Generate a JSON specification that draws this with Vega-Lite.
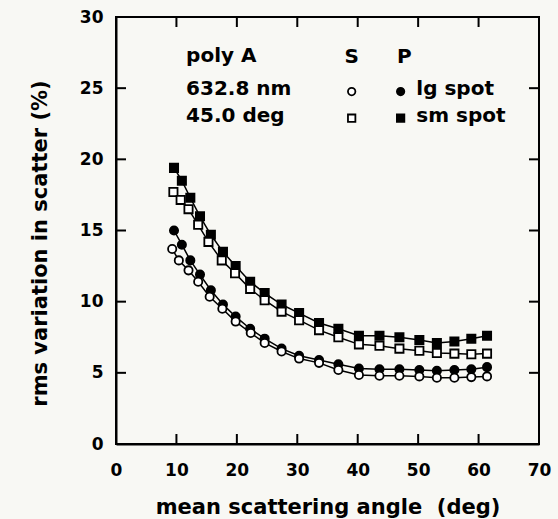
{
  "$schema": "https://vega.github.io/schema/vega-lite/v6.json",
  "width": 423,
  "height": 427,
  "autosize": {"type": "none"},
  "padding": {"left": 116, "top": 17, "right": 19, "bottom": 75},
  "background": "#f8f8f4",
  "config": {
    "view": {"stroke": "black", "strokeWidth": 2},
    "font": "DejaVu Sans",
    "tick": {"bandSize": 20, "thickness": 2},
    "axis": {
      "grid": false,
      "domainColor": "black",
      "domainWidth": 2,
      "labelColor": "black",
      "labelFont": "DejaVu Sans",
      "labelFontWeight": "bold",
      "labelFontSize": 17,
      "labelFlush": false,
      "labelOverlap": false,
      "titleColor": "black",
      "titleFont": "DejaVu Sans",
      "titleFontWeight": "bold",
      "titleFontSize": 21
    }
  },
  "datasets": {
    "pts": [
      {"angle": 9.6, "rms": 19.4, "pol": "P", "spot": "sm"},
      {"angle": 10.9, "rms": 18.5, "pol": "P", "spot": "sm"},
      {"angle": 12.3, "rms": 17.3, "pol": "P", "spot": "sm"},
      {"angle": 13.9, "rms": 16.0, "pol": "P", "spot": "sm"},
      {"angle": 15.7, "rms": 14.7, "pol": "P", "spot": "sm"},
      {"angle": 17.7, "rms": 13.5, "pol": "P", "spot": "sm"},
      {"angle": 19.8, "rms": 12.5, "pol": "P", "spot": "sm"},
      {"angle": 22.2, "rms": 11.4, "pol": "P", "spot": "sm"},
      {"angle": 24.6, "rms": 10.6, "pol": "P", "spot": "sm"},
      {"angle": 27.4, "rms": 9.8, "pol": "P", "spot": "sm"},
      {"angle": 30.3, "rms": 9.2, "pol": "P", "spot": "sm"},
      {"angle": 33.6, "rms": 8.5, "pol": "P", "spot": "sm"},
      {"angle": 36.8, "rms": 8.1, "pol": "P", "spot": "sm"},
      {"angle": 40.2, "rms": 7.6, "pol": "P", "spot": "sm"},
      {"angle": 43.6, "rms": 7.6, "pol": "P", "spot": "sm"},
      {"angle": 46.9, "rms": 7.5, "pol": "P", "spot": "sm"},
      {"angle": 50.2, "rms": 7.3, "pol": "P", "spot": "sm"},
      {"angle": 53.1, "rms": 7.1, "pol": "P", "spot": "sm"},
      {"angle": 56.0, "rms": 7.2, "pol": "P", "spot": "sm"},
      {"angle": 58.8, "rms": 7.4, "pol": "P", "spot": "sm"},
      {"angle": 61.4, "rms": 7.6, "pol": "P", "spot": "sm"},
      {"angle": 9.6, "rms": 15.0, "pol": "P", "spot": "lg"},
      {"angle": 10.9, "rms": 14.0, "pol": "P", "spot": "lg"},
      {"angle": 12.3, "rms": 12.9, "pol": "P", "spot": "lg"},
      {"angle": 13.9, "rms": 11.9, "pol": "P", "spot": "lg"},
      {"angle": 15.7, "rms": 10.8, "pol": "P", "spot": "lg"},
      {"angle": 17.7, "rms": 9.8, "pol": "P", "spot": "lg"},
      {"angle": 19.8, "rms": 8.95, "pol": "P", "spot": "lg"},
      {"angle": 22.2, "rms": 8.1, "pol": "P", "spot": "lg"},
      {"angle": 24.6, "rms": 7.4, "pol": "P", "spot": "lg"},
      {"angle": 27.4, "rms": 6.7, "pol": "P", "spot": "lg"},
      {"angle": 30.3, "rms": 6.2, "pol": "P", "spot": "lg"},
      {"angle": 33.6, "rms": 5.9, "pol": "P", "spot": "lg"},
      {"angle": 36.8, "rms": 5.6, "pol": "P", "spot": "lg"},
      {"angle": 40.2, "rms": 5.3, "pol": "P", "spot": "lg"},
      {"angle": 43.6, "rms": 5.25, "pol": "P", "spot": "lg"},
      {"angle": 46.9, "rms": 5.25, "pol": "P", "spot": "lg"},
      {"angle": 50.2, "rms": 5.2, "pol": "P", "spot": "lg"},
      {"angle": 53.1, "rms": 5.15, "pol": "P", "spot": "lg"},
      {"angle": 56.0, "rms": 5.2, "pol": "P", "spot": "lg"},
      {"angle": 58.8, "rms": 5.25, "pol": "P", "spot": "lg"},
      {"angle": 61.4, "rms": 5.4, "pol": "P", "spot": "lg"},
      {"angle": 9.5, "rms": 17.7, "pol": "S", "spot": "sm"},
      {"angle": 10.7, "rms": 17.15, "pol": "S", "spot": "sm"},
      {"angle": 12.0, "rms": 16.5, "pol": "S", "spot": "sm"},
      {"angle": 13.6, "rms": 15.4, "pol": "S", "spot": "sm"},
      {"angle": 15.3, "rms": 14.2, "pol": "S", "spot": "sm"},
      {"angle": 17.5, "rms": 12.9, "pol": "S", "spot": "sm"},
      {"angle": 19.7, "rms": 12.0, "pol": "S", "spot": "sm"},
      {"angle": 22.2, "rms": 10.9, "pol": "S", "spot": "sm"},
      {"angle": 24.6, "rms": 10.1, "pol": "S", "spot": "sm"},
      {"angle": 27.4, "rms": 9.3, "pol": "S", "spot": "sm"},
      {"angle": 30.3, "rms": 8.7, "pol": "S", "spot": "sm"},
      {"angle": 33.6, "rms": 8.0, "pol": "S", "spot": "sm"},
      {"angle": 36.8, "rms": 7.5, "pol": "S", "spot": "sm"},
      {"angle": 40.2, "rms": 7.0, "pol": "S", "spot": "sm"},
      {"angle": 43.6, "rms": 6.9, "pol": "S", "spot": "sm"},
      {"angle": 46.9, "rms": 6.7, "pol": "S", "spot": "sm"},
      {"angle": 50.2, "rms": 6.55, "pol": "S", "spot": "sm"},
      {"angle": 53.1, "rms": 6.4, "pol": "S", "spot": "sm"},
      {"angle": 56.0, "rms": 6.35, "pol": "S", "spot": "sm"},
      {"angle": 58.8, "rms": 6.3, "pol": "S", "spot": "sm"},
      {"angle": 61.4, "rms": 6.35, "pol": "S", "spot": "sm"},
      {"angle": 9.3, "rms": 13.7, "pol": "S", "spot": "lg"},
      {"angle": 10.4, "rms": 12.9, "pol": "S", "spot": "lg"},
      {"angle": 12.0, "rms": 12.2, "pol": "S", "spot": "lg"},
      {"angle": 13.6, "rms": 11.4, "pol": "S", "spot": "lg"},
      {"angle": 15.5, "rms": 10.35, "pol": "S", "spot": "lg"},
      {"angle": 17.6, "rms": 9.5, "pol": "S", "spot": "lg"},
      {"angle": 19.8, "rms": 8.6, "pol": "S", "spot": "lg"},
      {"angle": 22.3, "rms": 7.8, "pol": "S", "spot": "lg"},
      {"angle": 24.6, "rms": 7.1, "pol": "S", "spot": "lg"},
      {"angle": 27.4, "rms": 6.5, "pol": "S", "spot": "lg"},
      {"angle": 30.3, "rms": 6.0, "pol": "S", "spot": "lg"},
      {"angle": 33.6, "rms": 5.7, "pol": "S", "spot": "lg"},
      {"angle": 36.8, "rms": 5.2, "pol": "S", "spot": "lg"},
      {"angle": 40.2, "rms": 4.85, "pol": "S", "spot": "lg"},
      {"angle": 43.6, "rms": 4.8, "pol": "S", "spot": "lg"},
      {"angle": 46.9, "rms": 4.8, "pol": "S", "spot": "lg"},
      {"angle": 50.2, "rms": 4.75, "pol": "S", "spot": "lg"},
      {"angle": 53.1, "rms": 4.65, "pol": "S", "spot": "lg"},
      {"angle": 56.0, "rms": 4.65, "pol": "S", "spot": "lg"},
      {"angle": 58.8, "rms": 4.7, "pol": "S", "spot": "lg"},
      {"angle": 61.4, "rms": 4.75, "pol": "S", "spot": "lg"}
    ],
    "leg": [
      {"angle": 39.0, "rms": 24.76, "pol": "S", "spot": "lg"},
      {"angle": 47.1, "rms": 24.76, "pol": "P", "spot": "lg"},
      {"angle": 39.0, "rms": 22.89, "pol": "S", "spot": "sm"},
      {"angle": 47.1, "rms": 22.89, "pol": "P", "spot": "sm"}
    ],
    "notes": [
      {"angle": 11.6, "rms": 26.82, "label": "poly A"},
      {"angle": 11.6, "rms": 24.53, "label": "632.8 nm"},
      {"angle": 11.6, "rms": 22.65, "label": "45.0 deg"},
      {"angle": 37.8, "rms": 26.75, "label": "S"},
      {"angle": 46.5, "rms": 26.75, "label": "P"},
      {"angle": 49.7, "rms": 24.53, "label": "lg spot"},
      {"angle": 49.7, "rms": 22.65, "label": "sm spot"}
    ],
    "xticks": [{"v": 10}, {"v": 20}, {"v": 30}, {"v": 40}, {"v": 50}, {"v": 60}],
    "yticks": [{"v": 5}, {"v": 10}, {"v": 15}, {"v": 20}, {"v": 25}]
  },
  "resolve": {"axis": {"x": "independent", "y": "independent"}},
  "layer": [
    {
      "data": {"name": "pts"},
      "mark": {"type": "line", "color": "black", "strokeWidth": 1.5},
      "encoding": {
        "x": {
          "field": "angle", "type": "quantitative",
          "scale": {"domain": [0, 70], "nice": false, "zero": false},
          "axis": {
            "orient": "bottom",
            "values": [0, 10, 20, 30, 40, 50, 60, 70],
            "ticks": false,
            "labelPadding": 18,
            "title": "mean scattering angle\u00a0 (deg)",
            "titlePadding": 18
          }
        },
        "y": {
          "field": "rms", "type": "quantitative",
          "scale": {"domain": [0, 30], "nice": false, "zero": false},
          "axis": {
            "orient": "left",
            "values": [0, 5, 10, 15, 20, 25, 30],
            "ticks": false,
            "labelPadding": 13,
            "title": "rms variation in scatter (%)",
            "titlePadding": 29,
            "titleY": 226
          }
        },
        "detail": [{"field": "pol"}, {"field": "spot"}]
      }
    },
    {
      "data": {"name": "xticks"},
      "mark": {"type": "tick", "orient": "vertical", "size": 20, "thickness": 2, "color": "black", "opacity": 1, "clip": true},
      "encoding": {
        "x": {"field": "v", "type": "quantitative", "axis": null},
        "y": {"datum": 0, "type": "quantitative", "axis": null}
      }
    },
    {
      "data": {"name": "xticks"},
      "mark": {"type": "tick", "orient": "vertical", "size": 20, "thickness": 2, "color": "black", "opacity": 1, "clip": true},
      "encoding": {
        "x": {"field": "v", "type": "quantitative", "axis": null},
        "y": {"datum": 30, "type": "quantitative", "axis": null}
      }
    },
    {
      "data": {"name": "yticks"},
      "mark": {"type": "tick", "orient": "horizontal", "size": 20, "thickness": 2, "color": "black", "opacity": 1, "clip": true},
      "encoding": {
        "y": {"field": "v", "type": "quantitative", "axis": null},
        "x": {"datum": 0, "type": "quantitative", "axis": null}
      }
    },
    {
      "data": {"name": "yticks"},
      "mark": {"type": "tick", "orient": "horizontal", "size": 20, "thickness": 2, "color": "black", "opacity": 1, "clip": true},
      "encoding": {
        "y": {"field": "v", "type": "quantitative", "axis": null},
        "x": {"datum": 70, "type": "quantitative", "axis": null}
      }
    },
    {
      "data": {"name": "pts"},
      "mark": {"type": "point", "filled": true, "stroke": "black", "strokeWidth": 1.8, "opacity": 1, "size": 68},
      "encoding": {
        "x": {"field": "angle", "type": "quantitative", "axis": null},
        "y": {"field": "rms", "type": "quantitative", "axis": null},
        "shape": {"field": "spot", "type": "nominal", "scale": {"domain": ["lg", "sm"], "range": ["circle", "square"]}, "legend": null},
        "color": {"field": "pol", "type": "nominal", "scale": {"domain": ["S", "P"], "range": ["white", "black"]}, "legend": null}
      }
    },
    {
      "data": {"name": "leg"},
      "mark": {"type": "point", "filled": true, "stroke": "black", "strokeWidth": 1.8, "opacity": 1, "size": 55},
      "encoding": {
        "x": {"field": "angle", "type": "quantitative", "axis": null},
        "y": {"field": "rms", "type": "quantitative", "axis": null},
        "shape": {"field": "spot", "type": "nominal", "scale": {"domain": ["lg", "sm"], "range": ["circle", "square"]}, "legend": null},
        "color": {"field": "pol", "type": "nominal", "scale": {"domain": ["S", "P"], "range": ["white", "black"]}, "legend": null}
      }
    },
    {
      "data": {"name": "notes"},
      "mark": {"type": "text", "align": "left", "baseline": "alphabetic", "font": "DejaVu Sans", "fontWeight": "bold", "fontSize": 20, "color": "black"},
      "encoding": {
        "x": {"field": "angle", "type": "quantitative", "axis": null},
        "y": {"field": "rms", "type": "quantitative", "axis": null},
        "text": {"field": "label", "type": "nominal"}
      }
    }
  ]
}
